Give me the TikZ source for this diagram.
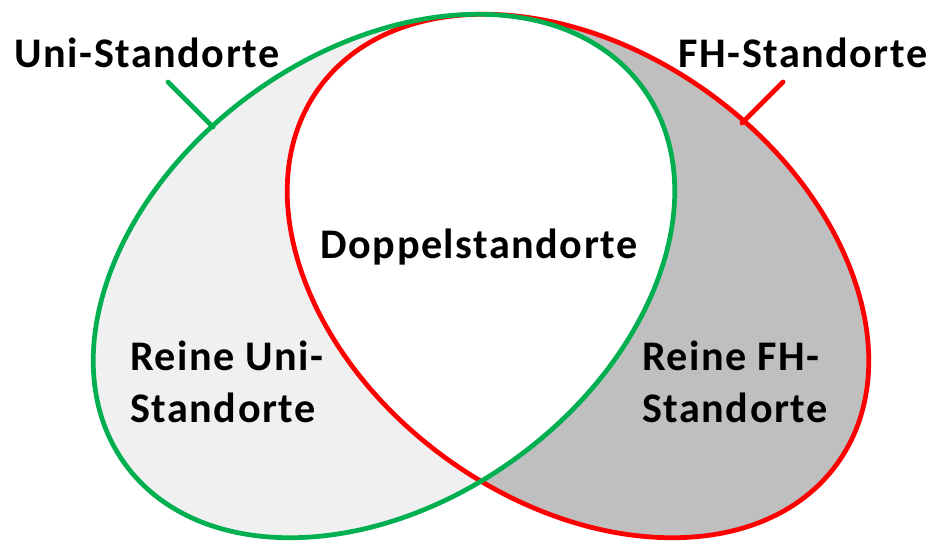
\documentclass[tikz,border=0pt]{standalone}
\usepackage{fontspec}
\setmainfont{Carlito}[LetterSpace=3.5]
\definecolor{unigruen}{HTML}{00B050}
\definecolor{fhrot}{HTML}{FF0000}
\definecolor{unihell}{HTML}{F0F0F0}
\definecolor{fhgrau}{HTML}{BFBFBF}
\begin{document}
\begin{tikzpicture}[x=0.02cm,y=0.02cm]
	\tikzstyle{every node}+=[inner sep=0pt, font=\fontsize{24}{29.6}\selectfont\bfseries]
	\tikzstyle{unirand}=[draw=unigruen, line width=2.7pt]
	\tikzstyle{fhrand}=[draw=fhrot, line width=2.7pt]
	\useasboundingbox (0,0) rectangle (931,542);
	% Flaechen
	\fill [unihell, rotate around={36:(384,266)}] (384,266) ellipse (320 and 225);
	\fill [fhgrau, rotate around={-36:(578,266)}] (578,266) ellipse (320 and 225);
	\begin{scope}
		\clip [rotate around={36:(384,266)}] (384,266) ellipse (320 and 225);
		\fill [white, rotate around={-36:(578,266)}] (578,266) ellipse (320 and 225);
	\end{scope}
	% Raender
	\draw [fhrand, rotate around={-36:(578,266)}] (578,266) ellipse (320 and 225);
	\draw [unirand, rotate around={36:(384,266)}] (384,266) ellipse (320 and 225);
	% Beschriftung
	\node (uni) [anchor=base] at (147,474) {Uni-Standorte};
	\node (fh) [anchor=base] at (803,474) {FH-Standorte};
	\node (doppel) [anchor=base] at (479,284) {Doppelstandorte};
	\node (reinuni) [anchor=north west, align=left] at (130,201) {Reine Uni-\\Standorte};
	\node (reinfh) [anchor=north west, align=left] at (642,201) {Reine FH-\\Standorte};
	\coordinate (unianf) at (168,460);
	\coordinate (uniend) at (213,415);
	\coordinate (fhanf) at (783,460);
	\coordinate (fhend) at (742,419);
	\draw [unirand, line cap=round] (unianf) -- (uniend);
	\draw [fhrand, line cap=round] (fhanf) -- (fhend);
\end{tikzpicture}
\end{document}
